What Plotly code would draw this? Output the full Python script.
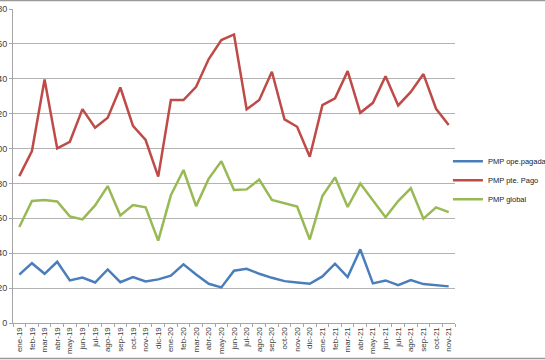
import plotly.graph_objects as go

months = ["ene-19","feb-19","mar-19","abr-19","may-19","jun-19","jul-19","ago-19","sep-19","oct-19","nov-19","dic-19",
          "ene-20","feb-20","mar-20","abr-20","may-20","jun-20","jul-20","ago-20","sep-20","oct-20","nov-20","dic-20",
          "ene-21","feb-21","mar-21","abr-21","may-21","jun-21","jul-21","ago-21","sep-21","oct-21","nov-21"]

pmp_ope_pagadas = [27.7,34.3,28.2,35.1,24.4,26.1,23.2,30.7,23.4,26.3,23.8,25.0,
                   27.1,33.6,27.8,22.5,20.4,30.0,31.1,28.2,25.9,24.0,23.2,22.5,
                   26.7,34.0,26.3,42.2,22.7,24.4,21.7,24.6,22.3,21.7,21.0]

pmp_pte_pago = [84.2,98.6,139.6,100.1,103.9,122.6,111.9,117.7,135.0,113.0,104.9,83.9,
                127.8,127.8,135.4,151.3,162.2,165.4,122.5,127.8,144.0,116.7,112.5,95.3,
                124.9,128.8,144.4,120.5,126.2,141.5,124.7,132.5,142.7,122.8,113.5]

pmp_global = [55.0,69.9,70.5,69.7,61.1,59.4,67.4,78.5,61.7,67.6,66.3,47.2,
              73.2,87.7,67.0,82.8,92.7,76.2,76.6,82.2,70.5,68.6,66.7,47.9,
              72.8,83.5,66.5,79.9,70.3,60.6,69.9,77.2,59.8,66.3,63.6]

y_ticks = [0, 20, 40, 60, 80, 100, 120, 140, 160, 180]

series = [
    ("PMP ope.pagadas", pmp_ope_pagadas, "#4a7ebb"),
    ("PMP pte. Pago", pmp_pte_pago, "#be4b48"),
    ("PMP global", pmp_global, "#98b954"),
]

fig = go.Figure()
for name, vals, color in series:
    fig.add_trace(go.Scatter(x=months, y=vals, name=name, mode="lines",
                             line=dict(color=color, width=2.5)))

font_family = "Liberation Sans Narrow, Liberation Sans, Arial, sans-serif"

fig.update_layout(
    width=545, height=360,
    margin=dict(l=13, r=90, t=9, b=37, autoexpand=False),
    paper_bgcolor="white", plot_bgcolor="white",
    font=dict(family=font_family, size=9, color="#404040"),
    showlegend=True,
    legend=dict(x=0.984, xanchor="left", y=0.455, yanchor="middle",
                font=dict(size=7.5, color="#222"),
                bgcolor="rgba(0,0,0,0)", tracegroupgap=0, itemwidth=30),
    xaxis=dict(type="category", tickangle=-90, tickson="boundaries",
               ticks="outside", ticklen=3, tickcolor="#a6a6a6",
               showline=True, linecolor="#a6a6a6", linewidth=1,
               showgrid=False, automargin=False,
               tickfont=dict(size=8, color="#404040"),
               range=[-0.5, len(months) - 0.5]),
    yaxis=dict(range=[0, 180], tickvals=y_ticks, ticks="outside", ticklen=3,
               tickcolor="#a6a6a6", showline=True, linecolor="#a6a6a6",
               linewidth=1, showgrid=True, gridcolor="#b3b3b3", gridwidth=1,
               zeroline=False, automargin=False,
               tickfont=dict(size=9, color="#404040")),
)

# chart-area border lines (top and bottom)
fig.add_shape(type="line", xref="paper", yref="paper", x0=-0.1, x1=1.3,
              y0=1.027, y1=1.027, line=dict(color="#999999", width=1.5))
fig.add_shape(type="line", xref="paper", yref="paper", x0=-0.1, x1=1.3,
              y0=-0.113, y1=-0.113, line=dict(color="#999999", width=1.5))

fig.write_html("out.html", config={"displayModeBar": False},
               post_script="document.body.style.margin='0';document.body.style.overflow='hidden';")
